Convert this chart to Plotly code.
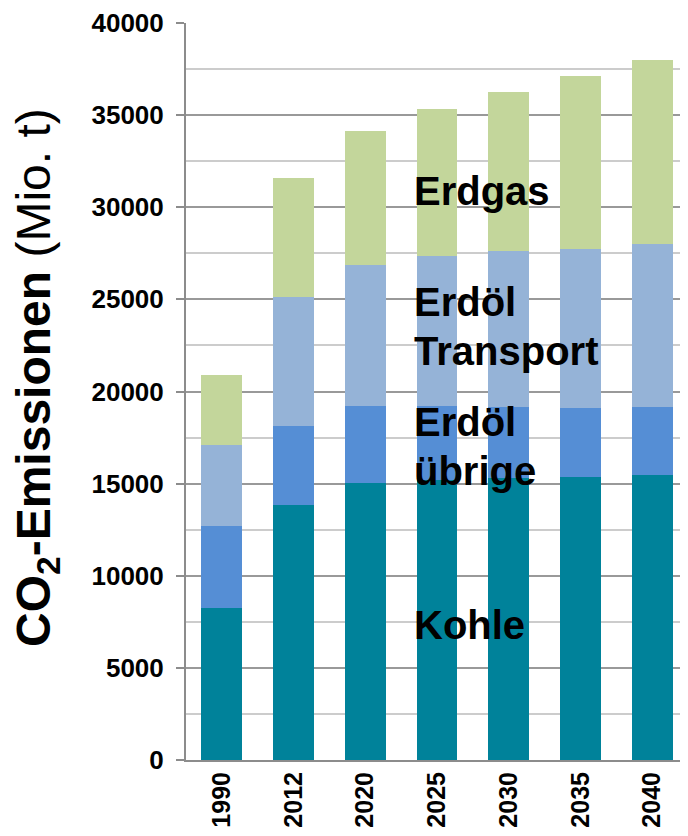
import plotly.graph_objects as go

years = ["1990", "2012", "2020", "2025", "2030", "2035", "2040"]
kohle = [8250, 13860, 15060, 15200, 15280, 15380, 15470]
oel_uebrige = [4450, 4290, 4160, 4020, 3880, 3730, 3690]
oel_transport = [4400, 6970, 7640, 8120, 8440, 8650, 8820]
erdgas = [3800, 6460, 7300, 8000, 8680, 9390, 10020]

series = [
    ("Kohle", kohle, "#00829A"),
    ("Erdöl übrige", oel_uebrige, "#558ED5"),
    ("Erdöl Transport", oel_transport, "#95B3D7"),
    ("Erdgas", erdgas, "#C3D69B"),
]

fig = go.Figure()
for name, vals, col in series:
    fig.add_trace(go.Bar(x=years, y=vals, name=name, marker=dict(color=col, line=dict(width=0))))

font_family = "Liberation Sans, Arial, sans-serif"

# text labels (pixel centres converted to paper coords)
labels = [("Erdgas", 191), ("Erdöl", 302), ("Transport", 351), ("Erdöl", 422), ("übrige", 471), ("Kohle", 625)]
for txt, py in labels:
    fig.add_annotation(x=(412 - 186) / 502, y=(760 - py) / 737, xref="paper", yref="paper",
                       text=f"<b>{txt}</b>", showarrow=False, xanchor="left", yanchor="middle",
                       font=dict(size=40, color="black", family=font_family))

# y-axis title
fig.add_annotation(x=(37 - 186) / 502, y=(760 - 378) / 737, xref="paper", yref="paper",
                   text="<b>CO<sub>2</sub>-Emissionen</b> (Mio. t)", textangle=-90,
                   showarrow=False, xanchor="center", yanchor="middle", borderpad=0,
                   font=dict(size=48, color="black", family=font_family))

fig.update_layout(
    barmode="stack",
    bargap=0.43,
    width=680, height=828,
    margin=dict(l=178, r=0, t=15, b=76),
    plot_bgcolor="white", paper_bgcolor="white",
    showlegend=False,
    font=dict(family=font_family, color="black"),
    xaxis=dict(type="category", tickangle=-90, tickfont=dict(size=25, family=font_family),
               showline=True, linecolor="#8c8c8c", linewidth=2, ticks="", showgrid=False,
               tickprefix="<b>", ticksuffix="</b>", automargin=False),
    yaxis=dict(range=[0, 40000], dtick=5000, tickformat="d",
               tickfont=dict(size=26, family=font_family),
               tickprefix="<b>", ticksuffix="</b>", automargin=False,
               ticklabelstandoff=7,
               showline=True, linecolor="#8c8c8c", linewidth=2,
               ticks="outside", ticklen=8, tickcolor="#8c8c8c", tickwidth=2,
               showgrid=True, gridcolor="#999999", gridwidth=2,
               minor=dict(dtick=2500, showgrid=True, gridcolor="#cccccc", gridwidth=2, ticks=""),
               zeroline=False),
)

fig.write_html("out.html")
